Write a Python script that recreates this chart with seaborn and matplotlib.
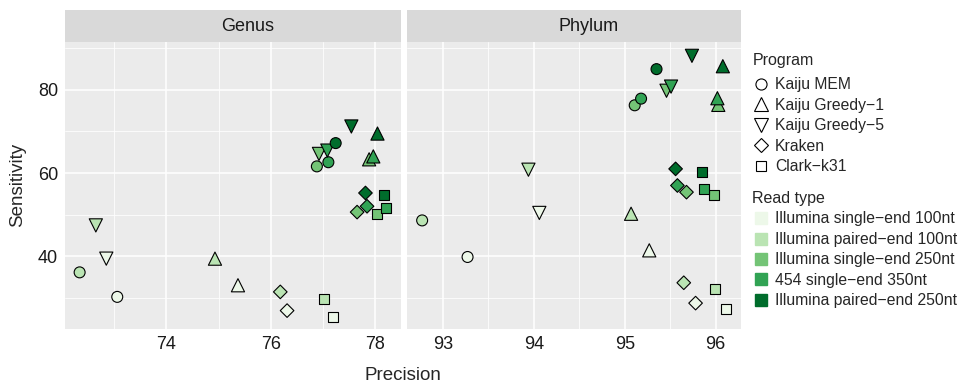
import pandas as pd
import matplotlib.pyplot as plt
import seaborn as sns
from matplotlib.lines import Line2D
from matplotlib.ticker import MultipleLocator

sns.set_theme(style="darkgrid", rc={
    'axes.facecolor': '#ebebeb',
    'grid.color': 'white',
    'axes.edgecolor': '#ebebeb',
})
plt.rcParams['font.family'] = ['Liberation Sans', 'DejaVu Sans']

# data
programs = ['Kaiju MEM', 'Kaiju Greedy\u22121', 'Kaiju Greedy\u22125', 'Kraken', 'Clark\u2212k31']
read_types = ['Illumina single\u2212end 100nt', 'Illumina paired\u2212end 100nt',
              'Illumina single\u2212end 250nt', '454 single\u2212end 350nt',
              'Illumina paired\u2212end 250nt']
levels = ['Genus', 'Phylum']

# one row per program, one value per read type
genus_precision = [
    [73.06, 72.34, 76.88, 77.10, 77.24],
    [75.37, 74.93, 77.88, 77.96, 78.04],
    [72.85, 72.65, 76.92, 77.08, 77.54],
    [76.31, 76.18, 77.65, 77.84, 77.81],
    [77.19, 77.01, 78.03, 78.21, 78.16],
]
genus_sensitivity = [
    [30.2, 36.1, 61.6, 62.6, 67.2],
    [33.0, 39.4, 63.3, 64.0, 69.5],
    [39.4, 47.4, 64.6, 65.4, 71.2],
    [26.9, 31.4, 50.6, 52.0, 55.2],
    [25.4, 29.8, 50.2, 51.5, 54.8],
]
phylum_precision = [
    [93.27, 92.77, 95.11, 95.18, 95.35],
    [95.27, 95.07, 96.03, 96.02, 96.08],
    [94.06, 93.94, 95.46, 95.51, 95.74],
    [95.78, 95.65, 95.68, 95.58, 95.56],
    [96.12, 95.99, 95.98, 95.87, 95.85],
]
phylum_sensitivity = [
    [39.8, 48.6, 76.3, 77.9, 85.0],
    [41.4, 50.2, 76.4, 78.0, 85.7],
    [50.4, 60.8, 79.8, 80.8, 88.2],
    [28.7, 33.6, 55.4, 57.0, 61.0],
    [27.4, 32.0, 54.6, 56.2, 60.2],
]

rows = []
for level, prec, sens in [('Genus', genus_precision, genus_sensitivity),
                          ('Phylum', phylum_precision, phylum_sensitivity)]:
    for j, rt in enumerate(read_types):
        for i, prog in enumerate(programs):
            rows.append({'Level': level, 'Program': prog, 'Read type': rt,
                         'Precision': prec[i][j], 'Sensitivity': sens[i][j]})
df = pd.DataFrame(rows)

greens = ['#edf8e9', '#bae4b3', '#74c476', '#31a354', '#006d2c']
palette = dict(zip(read_types, greens))
markers = dict(zip(programs, ['o', '^', 'v', 'D', 's']))
sizes = dict(zip(programs, [62, 90, 90, 48, 52]))
key_sizes = dict(zip(programs, [8, 10.5, 10.5, 7.5, 7.5]))

W, H = 960, 384
fig = plt.figure(figsize=(9.6, 3.84), dpi=100)

def px_axes(x0, y0, x1, y1):
    return fig.add_axes([x0 / W, 1 - y1 / H, (x1 - x0) / W, (y1 - y0) / H])

panels = {
    'Genus': dict(box=(65, 41.7, 401, 329.3), xlim=(72.06, 78.49), major=2, minor=1),
    'Phylum': dict(box=(406.7, 41.7, 741, 329.3), xlim=(92.60, 96.28), major=1, minor=0.5),
}

for k, level in enumerate(levels):
    p = panels[level]
    x0, y0, x1, y1 = p['box']
    ax = px_axes(x0, y0, x1, y1)
    sns.scatterplot(data=df[df['Level'] == level], x='Precision', y='Sensitivity',
                    hue='Read type', style='Program', size='Program',
                    palette=palette, markers=markers, sizes=sizes,
                    edgecolor='black', linewidth=0.8, legend=False, ax=ax, zorder=3)
    ax.set_xlim(*p['xlim'])
    ax.set_ylim(22.4, 91.6)
    ax.xaxis.set_major_locator(MultipleLocator(p['major']))
    ax.xaxis.set_minor_locator(MultipleLocator(p['minor']))
    ax.yaxis.set_major_locator(MultipleLocator(20))
    ax.yaxis.set_minor_locator(MultipleLocator(10))
    ax.grid(which='major', color='white', linewidth=1.1)
    ax.grid(which='minor', color='white', linewidth=0.55)
    ax.set_axisbelow(True)
    ax.tick_params(which='both', length=0, labelsize=13, colors='#1a1a1a', pad=5)
    ax.set_xlabel('')
    ax.set_ylabel('')
    for s in ax.spines.values():
        s.set_visible(False)
    if k > 0:
        ax.tick_params(axis='y', labelleft=False)

    # facet strip
    st = px_axes(x0, 10, x1, y0)
    st.set_facecolor('#d9d9d9')
    st.set_xticks([])
    st.set_yticks([])
    for s in st.spines.values():
        s.set_visible(False)
    st.text(0.5 + 15 / (x1 - x0), 0.47, level, ha='center', va='center', fontsize=13,
            color='#1a1a1a', transform=st.transAxes)

fig.text(403 / W, 1 - 376 / H, 'Precision', ha='center', va='center', fontsize=13.5)
fig.text(18 / W, 1 - 185 / H, 'Sensitivity', ha='center', va='center',
         rotation=90, fontsize=13.5)

# legends: titles as plain text, keys as legends without a title
leg_kw = dict(loc='upper left', frameon=False, fontsize=11.3,
              handlelength=1.2, handletextpad=0.26,
              labelspacing=0.35, borderpad=0, borderaxespad=0)
fig.text(752.5 / W, 1 - 61 / H, 'Program', ha='left', va='center', fontsize=11.5)
prog_handles = [Line2D([], [], linestyle='', marker=markers[p], markersize=key_sizes[p],
                       markerfacecolor='white', markeredgecolor='black', markeredgewidth=0.8)
                for p in programs]
fig.legend(prog_handles, programs, bbox_to_anchor=(752 / W, 1 - 77.5 / H), **leg_kw)

fig.text(752.5 / W, 1 - 198.5 / H, 'Read type', ha='left', va='center', fontsize=11.5)
rt_handles = [Line2D([], [], linestyle='', marker='s', markersize=8,
                     markerfacecolor=palette[r], markeredgecolor=palette[r])
              for r in read_types]
fig.legend(rt_handles, read_types, bbox_to_anchor=(752 / W, 1 - 211.5 / H), **leg_kw)

fig.savefig('out.png', dpi=100)
